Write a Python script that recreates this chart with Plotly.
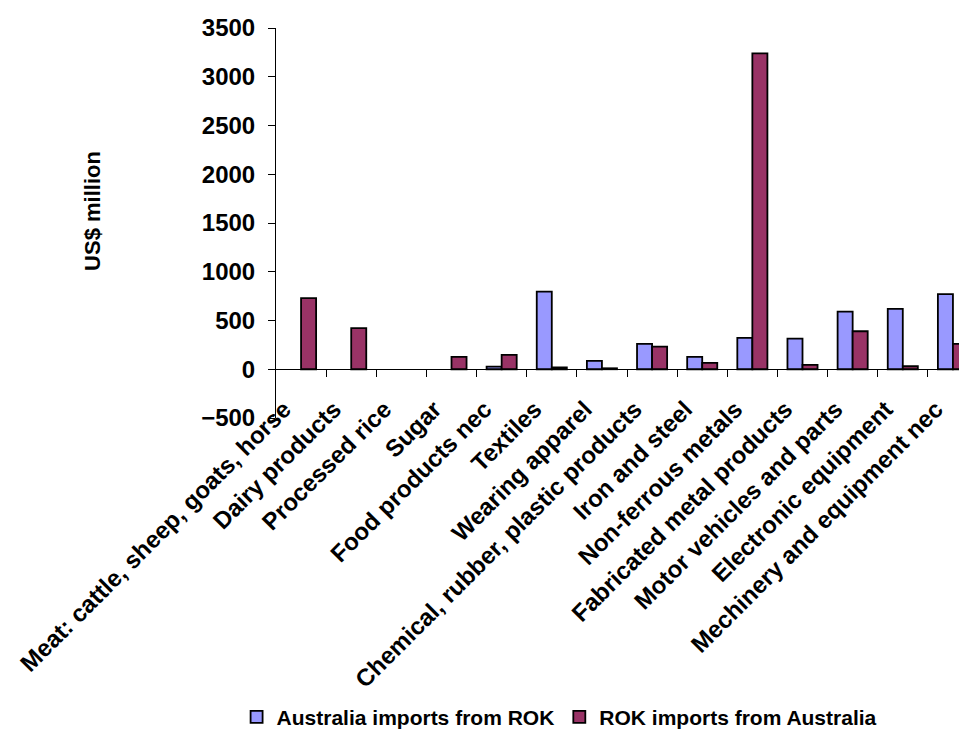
import plotly.graph_objects as go

categories = [
    "Meat: cattle, sheep, goats, horse",
    "Dairy products",
    "Processed rice",
    "Sugar",
    "Food products nec",
    "Textiles",
    "Wearing apparel",
    "Chemical, rubber, plastic products",
    "Iron and steel",
    "Non-ferrous metals",
    "Fabricated metal products",
    "Motor vehicles and parts",
    "Electronic equipment",
    "Mechinery and equipment nec",
]
aus_imports_from_rok = [0, 0, 0, 0, 27, 797, 85, 260, 126, 321, 314, 591, 619, 770]
rok_imports_from_aus = [729, 421, 0, 126, 147, 20, 10, 232, 65, 3239, 44, 390, 31, 260]

series_names = ["Australia imports from ROK", "ROK imports from Australia"]
y_ticks = [-500, 0, 500, 1000, 1500, 2000, 2500, 3000, 3500]

FONT = "Liberation Sans, Arial, sans-serif"
xs = list(range(len(categories)))
x_range = [-0.5, 13.44]


def blank_zero(vals):
    # zero-valued bars are not drawn in the reference
    return [v if v != 0 else None for v in vals]


fig = go.Figure()
fig.add_trace(go.Bar(
    x=xs, y=blank_zero(aus_imports_from_rok), name=series_names[0],
    marker=dict(color="#9999FF", line=dict(color="black", width=1.8)),
))
fig.add_trace(go.Bar(
    x=xs, y=blank_zero(rok_imports_from_aus), name=series_names[1],
    marker=dict(color="#993366", line=dict(color="black", width=1.8)),
))
# helper trace so the zero-line category axis is rendered
fig.add_trace(go.Scatter(x=xs, y=[None] * len(xs), xaxis="x2", mode="none",
                         showlegend=False, hoverinfo="skip"))

fig.update_layout(
    width=967, height=731,
    margin=dict(l=268, r=0, t=20, b=321),
    paper_bgcolor="white", plot_bgcolor="white",
    barmode="group", bargap=0.4, bargroupgap=0,
    font=dict(family=FONT, color="black"),
    showlegend=True,
    legend=dict(
        orientation="h", x=0.405, xanchor="center", y=-0.767, yanchor="middle",
        font=dict(family=FONT, size=21, weight="bold", color="black"),
        itemwidth=30, tracegroupgap=0,
    ),
    xaxis=dict(
        range=x_range, tickmode="array", tickvals=xs, ticktext=categories,
        tickangle=-45, showline=False, ticks="", showgrid=False, zeroline=False,
        anchor="free", position=0.073, automargin=False, ticklabelshift=-17,
        tickfont=dict(family=FONT, size=24, weight="bold", color="black"),
    ),
    xaxis2=dict(
        overlaying="x", range=x_range, anchor="free", position=0.125,
        tickmode="array", tickvals=[i + 0.5 for i in xs[:-1]], automargin=False,
        showticklabels=False, ticks="outside", ticklen=7, tickcolor="black",
        showline=True, linecolor="black", linewidth=1, showgrid=False, zeroline=False,
    ),
    yaxis=dict(
        range=[y_ticks[0], y_ticks[-1]], tickmode="array", tickvals=y_ticks,
        showline=True, linecolor="black", linewidth=1, automargin=False,
        ticks="outside", ticklen=7, tickcolor="black",
        showgrid=False, zeroline=False, ticklabelstandoff=8,
        tickfont=dict(family=FONT, size=24, weight="bold", color="black"),
    ),
    annotations=[dict(
        text="US$ million", textangle=-90, xref="paper", yref="paper",
        x=-0.2618, y=0.531, xanchor="center", yanchor="middle", showarrow=False,
        font=dict(family=FONT, size=22, weight="bold", color="black"),
    )],
)

fig.write_html("out.html")
